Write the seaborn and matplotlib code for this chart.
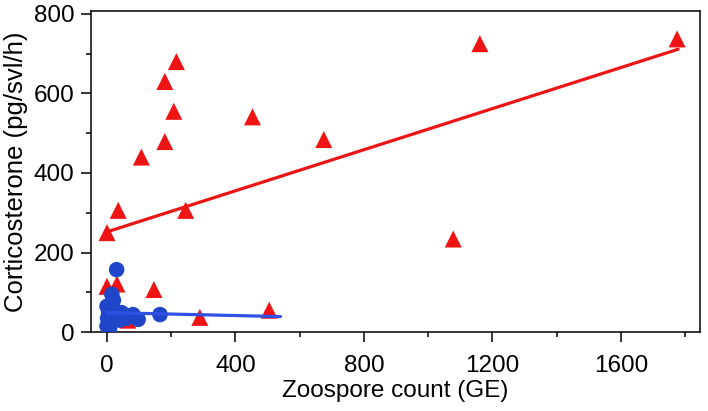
import pandas as pd
import matplotlib
matplotlib.use('Agg')
import matplotlib.pyplot as plt
from matplotlib.ticker import MultipleLocator
import seaborn as sns

# Red group (triangles): zoospore count vs corticosterone
red_x = [216, 180, 208, 453, 180, 675, 107, 35, 245, 0, 0, 31, 146, 505, 289, 65, 1161, 1775, 1078]
red_y = [680, 630, 555, 541, 479, 484, 440, 306, 306, 250, 115, 121, 107, 55, 37, 30, 725, 737, 234]

# Blue group (circles)
blue_x = [30, 15, 20, 0, 5, 45, 81, 97, 165, 0, 10, 25, 60, 40, 2, 8, 50, 70, 20]
blue_y = [157, 95, 80, 65, 50, 49, 44, 32, 44, 15, 25, 40, 35, 30, 35, 10, 45, 40, 55]

# Regression lines (endpoints)
red_line_x = [0, 1778]
red_line_y = [252, 711]
blue_line_x = [0, 540]
blue_line_y = [49, 39]

red = '#ee1414'
blue = '#1f45c8'
blue_line = '#3050e6'

sns.set_theme(style='ticks')
plt.rcParams['font.family'] = ['Liberation Sans', 'DejaVu Sans']
plt.rcParams['text.color'] = 'black'
plt.rcParams['axes.labelcolor'] = 'black'
plt.rcParams['xtick.color'] = 'black'
plt.rcParams['ytick.color'] = 'black'

red_df = pd.DataFrame({'x': red_x, 'y': red_y})
blue_df = pd.DataFrame({'x': blue_x, 'y': blue_y})

fig = plt.figure(figsize=(7.08, 4.11), dpi=100)
ax = fig.add_axes([0.128, 0.192, 0.861, 0.782])

sns.scatterplot(data=red_df, x='x', y='y', marker='^', s=150, color=red,
                edgecolor='none', ax=ax, zorder=3)
sns.lineplot(x=red_line_x, y=red_line_y, color=red, linewidth=2.3, ax=ax, zorder=4)
sns.scatterplot(data=blue_df, x='x', y='y', marker='o', s=125, color=blue,
                edgecolor='none', ax=ax, zorder=5)
sns.lineplot(x=blue_line_x, y=blue_line_y, color=blue_line, linewidth=2.3, ax=ax, zorder=6)

ax.set_xlim(-51, 1847)
ax.set_ylim(0, 808)
ax.set_xticks([0, 400, 800, 1200, 1600])
ax.set_yticks([0, 200, 400, 600, 800])
ax.xaxis.set_minor_locator(MultipleLocator(200))
ax.yaxis.set_minor_locator(MultipleLocator(100))
ax.tick_params(which='major', direction='out', length=7.5, width=1.1, labelsize=17.5, pad=4)
ax.tick_params(axis='x', which='major', pad=9)
ax.tick_params(which='minor', direction='out', length=3.8, width=1.1)
for sp in ax.spines.values():
    sp.set_linewidth(1.1)
    sp.set_color('black')

ax.set_xlabel('Zoospore count (GE)', fontsize=17.5, labelpad=2)
ax.set_ylabel('Corticosterone (pg/svl/h)', fontsize=18.5, labelpad=4)

fig.savefig('out.png', dpi=100)
